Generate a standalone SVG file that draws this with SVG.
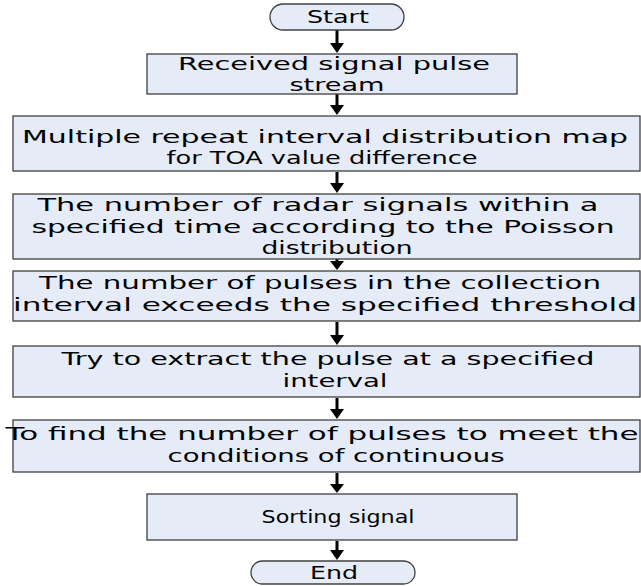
<svg xmlns="http://www.w3.org/2000/svg" width="641" height="586" viewBox="0 0 641 586">
<defs>
<style>
.n{fill:#e6ecf7;stroke:#404040;stroke-width:1.3}
.t{font-family:"DejaVu Sans",sans-serif;font-size:17px;fill:#000;text-anchor:middle}
.c{stroke:#000;stroke-width:3;fill:none}
.h{fill:#000}
</style>
</defs>
<rect width="641" height="586" fill="#fff"/>
<g id="connectors">
<line class="c" x1="337" y1="30" x2="337" y2="44"/>
<path class="h" d="M330,43 L344,43 L337,53 Z"/>
<line class="c" x1="337" y1="94" x2="337" y2="106"/>
<path class="h" d="M330,105 L344,105 L337,115 Z"/>
<line class="c" x1="337" y1="172" x2="337" y2="184"/>
<path class="h" d="M330,183 L344,183 L337,193 Z"/>
<line class="c" x1="337" y1="259" x2="337" y2="262"/>
<path class="h" d="M330,261 L344,261 L337,270 Z"/>
<line class="c" x1="337" y1="322" x2="337" y2="336"/>
<path class="h" d="M330,335 L344,335 L337,345 Z"/>
<line class="c" x1="337" y1="398" x2="337" y2="410"/>
<path class="h" d="M330,409 L344,409 L337,419 Z"/>
<line class="c" x1="337" y1="473" x2="337" y2="485"/>
<path class="h" d="M330,484 L344,484 L337,493 Z"/>
<line class="c" x1="337" y1="541" x2="337" y2="551"/>
<path class="h" d="M330,550 L344,550 L337,560 Z"/>
</g>
<g id="start">
<rect class="n" x="270" y="4" width="134" height="26" rx="13"/>
<text class="t" x="338" y="23" textLength="62" lengthAdjust="spacingAndGlyphs">Start</text>
</g>
<g id="n1">
<rect class="n" x="147" y="54" width="370" height="40"/>
<text class="t" x="334" y="70" textLength="312" lengthAdjust="spacingAndGlyphs">Received signal pulse</text>
<text class="t" x="337" y="91" textLength="95" lengthAdjust="spacingAndGlyphs">stream</text>
</g>
<g id="n2">
<rect class="n" x="13" y="116" width="627" height="55"/>
<text class="t" x="325" y="143" textLength="606" lengthAdjust="spacingAndGlyphs">Multiple repeat interval distribution map</text>
<text class="t" x="322" y="164" textLength="311" lengthAdjust="spacingAndGlyphs">for TOA value difference</text>
</g>
<g id="n3">
<rect class="n" x="13" y="194" width="627" height="65"/>
<text class="t" x="318" y="211" textLength="561" lengthAdjust="spacingAndGlyphs">The number of radar signals within a</text>
<text class="t" x="323" y="233" textLength="583" lengthAdjust="spacingAndGlyphs">specified time according to the Poisson</text>
<text class="t" x="337" y="254" textLength="151" lengthAdjust="spacingAndGlyphs">distribution</text>
</g>
<g id="n4">
<rect class="n" x="13" y="271" width="627" height="50"/>
<text class="t" x="320" y="289" textLength="562" lengthAdjust="spacingAndGlyphs">The number of pulses in the collection</text>
<text class="t" x="325" y="311" textLength="624" lengthAdjust="spacingAndGlyphs">interval exceeds the specified threshold</text>
</g>
<g id="n5">
<rect class="n" x="13" y="346" width="627" height="51"/>
<text class="t" x="328" y="365" textLength="533" lengthAdjust="spacingAndGlyphs">Try to extract the pulse at a specified</text>
<text class="t" x="335" y="387" textLength="105" lengthAdjust="spacingAndGlyphs">interval</text>
</g>
<g id="n6">
<rect class="n" x="13" y="420" width="627" height="52"/>
<text class="t" x="322" y="440" textLength="633" lengthAdjust="spacingAndGlyphs">To find the number of pulses to meet the</text>
<text class="t" x="336" y="462" textLength="337" lengthAdjust="spacingAndGlyphs">conditions of continuous</text>
</g>
<g id="n7">
<rect class="n" x="147" y="494" width="370" height="46"/>
<text class="t" x="338" y="523" textLength="153" lengthAdjust="spacingAndGlyphs">Sorting signal</text>
</g>
<g id="end">
<rect class="n" x="251" y="561" width="164" height="23" rx="11.5"/>
<text class="t" x="334" y="579" textLength="48" lengthAdjust="spacingAndGlyphs">End</text>
</g>
</svg>
